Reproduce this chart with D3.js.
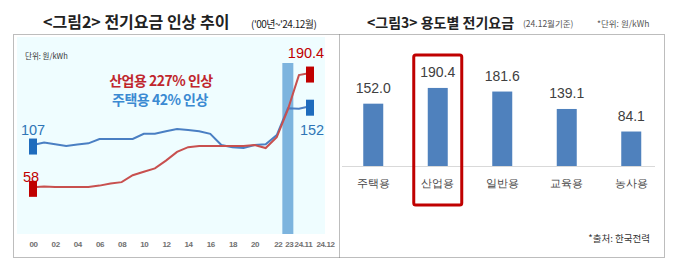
<!DOCTYPE html>
<html>
<head>
<meta charset="utf-8">
<script src="https://cdn.jsdelivr.net/npm/d3@7"></script>
<style>
  body { margin: 0; background: #fff; }
  text { font-family: "Liberation Sans", Arial, sans-serif; }
  .kr { font-family: "Noto Sans CJK KR", sans-serif; }
</style>
</head>
<body>
<div id="chart"></div>
<script>
// left chart: tariff trend 2000 ~ 2024.12 (won/kWh)
var periods = ["00","01","02","03","04","05","06","07","08","09","10","11","12",
  "13","14","15","16","17","18","19","20","21","22","23","24.11","24.12"];
var residential = [107,110,108,106,107.5,109,114,114,114,114,120,120,123,
  125.5,124.5,123,120,107,104.5,103.5,107,108,118.5,149.5,149,152];
var industrial = [58,59,58.5,58.5,58.5,58.5,60,62.5,64,72,76,80,89,
  99,104.5,106,106,106,106,106,107,103.5,116,148,188,190.4];
var tickLabels = ["00","02","04","06","08","10","12","14","16","18","20","22","23","24.11","24.12"];
var highlightPeriod = "23";

// right chart: tariff by usage, 24.12
var usages = ["주택용","산업용","일반용","교육용","농사용"];
var usageValues = [152.0, 190.4, 181.6, 139.1, 84.1];
var highlightUsage = "산업용";

var width = 680, height = 271;
var svg = d3.select("#chart").append("svg")
  .attr("width", width)
  .attr("height", height);

// frames
svg.append("rect")
  .attr("x", 17).attr("y", 37)
  .attr("width", 308).attr("height", 197)
  .attr("fill", "#effdff");

var frame = svg.append("g")
  .attr("stroke", "#7a7a7a")
  .attr("stroke-dasharray", "1,1")
  .attr("fill", "none");
frame.append("rect").attr("x", 13.5).attr("y", 34.5).attr("width", 651).attr("height", 223);
frame.append("line").attr("x1", 339.5).attr("x2", 339.5).attr("y1", 34.5).attr("y2", 257.5);

// titles
svg.append("text").attr("class", "kr")
  .attr("x", 43).attr("y", 28)
  .attr("font-size", 16).attr("font-weight", "bold").attr("fill", "#222")
  .text("<그림2> 전기요금 인상 추이");
svg.append("text").attr("class", "kr")
  .attr("x", 251).attr("y", 28)
  .attr("font-size", 10).attr("letter-spacing", -0.5).attr("fill", "#222")
  .text("('00년~'24.12월)");

svg.append("text").attr("class", "kr")
  .attr("x", 367).attr("y", 28)
  .attr("font-size", 14).attr("font-weight", "bold").attr("fill", "#222")
  .text("<그림3> 용도별 전기요금");
svg.append("text").attr("class", "kr")
  .attr("x", 523).attr("y", 27)
  .attr("font-size", 8.5).attr("fill", "#555")
  .text("(24.12월기준)");
svg.append("text").attr("class", "kr")
  .attr("x", 597).attr("y", 27)
  .attr("font-size", 8.5).attr("fill", "#555")
  .text("*단위: 원/kWh");

// ---- left line chart ----
var x = d3.scalePoint().domain(periods).range([33, 310]);
var y = d3.scaleLinear().domain([0, 220]).range([237.4, 47.5]);

var left = svg.append("g");

left.append("rect")
  .attr("x", x(highlightPeriod) - 5.5)
  .attr("y", 63)
  .attr("width", 11)
  .attr("height", 234 - 63)
  .attr("fill", "#7db4de");

// the last labels are spread out so they do not collide
var tickShift = {"22": 1, "23": 1, "24.11": 4, "24.12": 15};
var xAxis = left.append("g")
  .attr("transform", "translate(0,238)")
  .call(d3.axisBottom(x).tickValues(tickLabels).tickSize(0));
xAxis.select(".domain").remove();
xAxis.selectAll("text")
  .attr("dx", function(d) { return tickShift[d] || 0; })
  .attr("font-family", "Liberation Sans Narrow, Liberation Sans, Arial, sans-serif")
  .attr("font-size", 8)
  .attr("font-weight", "bold")
  .attr("letter-spacing", -0.4)
  .attr("fill", "#707070");

var line = d3.line()
  .x(function(d, i) { return x(periods[i]); })
  .y(function(d) { return y(d); });

left.append("path").datum(residential)
  .attr("d", line).attr("fill", "none")
  .attr("stroke", "#4a7fc3").attr("stroke-width", 2);
left.append("path").datum(industrial)
  .attr("d", line).attr("fill", "none")
  .attr("stroke", "#c8504f").attr("stroke-width", 2);

// end markers
var last = periods.length - 1;
function marker(i, v, color) {
  left.append("rect")
    .attr("x", x(periods[i]) - 4)
    .attr("y", y(v) - 6.5)
    .attr("width", 8).attr("height", 16)
    .attr("fill", color);
}
marker(0, residential[0], "#1f6cbd");
marker(0, industrial[0], "#c00000");
marker(last, residential[last], "#1f6cbd");
marker(last, industrial[last], "#c00000");

left.append("text")
  .attr("x", x(periods[0])).attr("y", y(residential[0]) - 10)
  .attr("text-anchor", "middle").attr("font-size", 14.5).attr("fill", "#2e75b6")
  .text(residential[0]);
left.append("text")
  .attr("x", x(periods[0]) - 2).attr("y", y(industrial[0]) - 5)
  .attr("text-anchor", "middle").attr("font-size", 14.5).attr("fill", "#c00000")
  .text(industrial[0]);
left.append("text")
  .attr("x", x(periods[last]) - 4).attr("y", y(industrial[last]) - 15)
  .attr("text-anchor", "middle").attr("font-size", 14.5).attr("fill", "#c00000")
  .text(industrial[last]);
left.append("text")
  .attr("x", x(periods[last]) + 2).attr("y", y(residential[last]) + 29)
  .attr("text-anchor", "middle").attr("font-size", 14.5).attr("fill", "#2e75b6")
  .text(residential[last]);

left.append("text").attr("class", "kr")
  .attr("x", 25).attr("y", 59)
  .attr("font-size", 7.5).attr("fill", "#333")
  .text("단위: 원/kWh");

left.append("text").attr("class", "kr")
  .attr("x", 161).attr("y", 86)
  .attr("text-anchor", "middle")
  .attr("font-size", 14).attr("font-weight", "bold").attr("letter-spacing", -0.5)
  .attr("fill", "#c0272d")
  .text("산업용 227% 인상");
left.append("text").attr("class", "kr")
  .attr("x", 160).attr("y", 105)
  .attr("text-anchor", "middle")
  .attr("font-size", 14).attr("font-weight", "bold").attr("letter-spacing", -0.5)
  .attr("fill", "#3b8ad2")
  .text("주택용 42% 인상");

// ---- right bar chart ----
var xb = d3.scaleBand().domain(usages).range([341, 663.5])
  .paddingInner(0.69).paddingOuter(0.345);
var yb = d3.scaleLinear().domain([0, 200]).range([166, 84]);

var right = svg.append("g");

right.selectAll(".bar")
  .data(usageValues)
  .enter()
  .append("rect")
  .attr("class", "bar")
  .attr("x", function(d, i) { return xb(usages[i]); })
  .attr("y", function(d) { return yb(d); })
  .attr("width", xb.bandwidth())
  .attr("height", function(d) { return yb(0) - yb(d); })
  .attr("fill", "#4f81bd");

right.append("line")
  .attr("x1", 342).attr("x2", 655)
  .attr("y1", yb(0) + 0.5).attr("y2", yb(0) + 0.5)
  .attr("stroke", "#d9d9d9");

right.selectAll(".val")
  .data(usageValues)
  .enter()
  .append("text")
  .attr("class", "val")
  .attr("x", function(d, i) { return xb(usages[i]) + xb.bandwidth() / 2; })
  .attr("y", function(d) { return yb(d) - 11; })
  .attr("text-anchor", "middle")
  .attr("font-size", 14)
  .attr("fill", "#404040")
  .text(function(d) { return d.toFixed(1); });

var xbAxis = right.append("g")
  .attr("transform", "translate(0," + yb(0) + ")")
  .call(d3.axisBottom(xb).tickSize(0).tickPadding(14));
xbAxis.select(".domain").remove();
xbAxis.selectAll("text")
  .attr("font-family", "Noto Sans CJK KR, sans-serif")
  .attr("font-size", 10.5)
  .attr("fill", "#444");

right.append("rect")
  .attr("x", xb(highlightUsage) + xb.bandwidth() / 2 - 24)
  .attr("y", 55)
  .attr("width", 48).attr("height", 150)
  .attr("rx", 2)
  .attr("fill", "none")
  .attr("stroke", "#c00000")
  .attr("stroke-width", 3);

right.append("text").attr("class", "kr")
  .attr("x", 650).attr("y", 242)
  .attr("text-anchor", "end")
  .attr("font-size", 9.5).attr("fill", "#333")
  .text("*출처: 한국전력");
</script>
</body>
</html>
